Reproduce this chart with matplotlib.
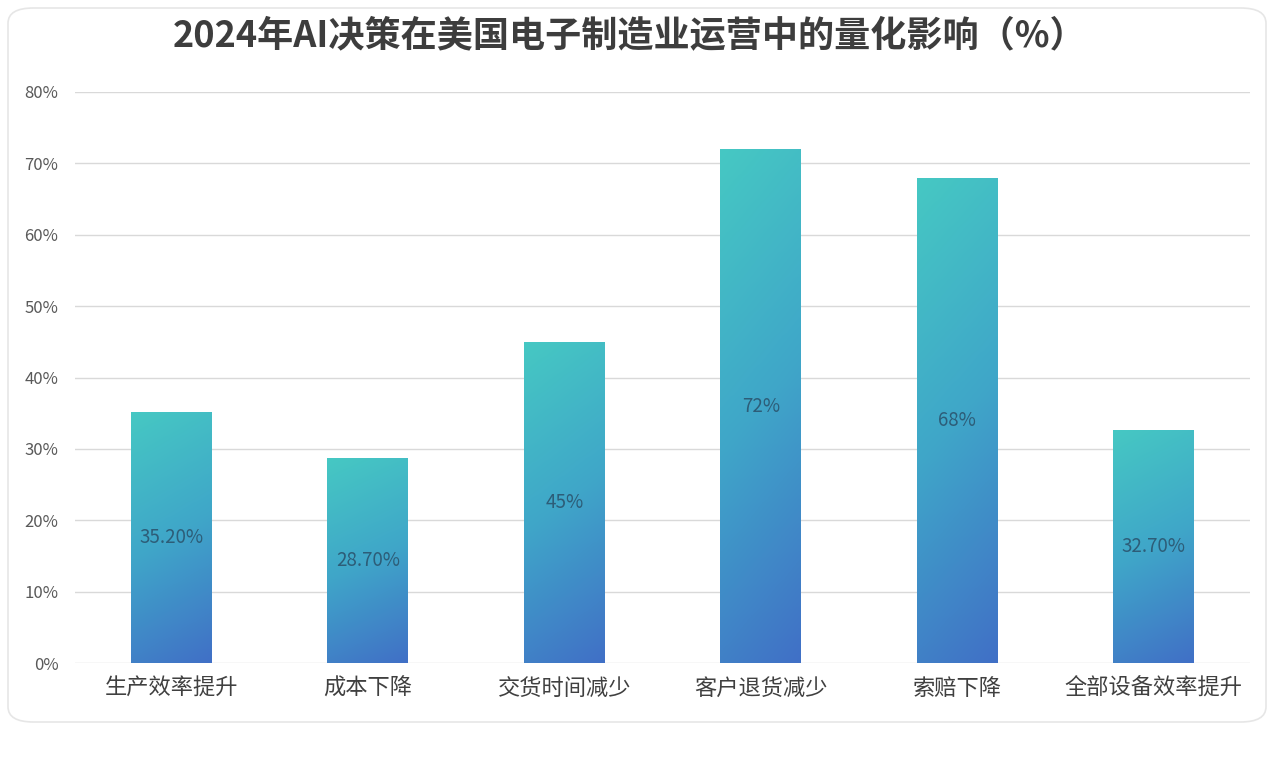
import numpy as np
import matplotlib.pyplot as plt
from matplotlib.patches import FancyBboxPatch
from matplotlib.colors import LinearSegmentedColormap

plt.rcParams['font.family'] = ['Noto Sans CJK SC', 'DejaVu Sans']

TITLE = "2024年AI决策在美国电子制造业运营中的量化影响（%）"
categories = ["生产效率提升", "成本下降", "交货时间减少", "客户退货减少", "索赔下降", "全部设备效率提升"]
values = [35.2, 28.7, 45, 72, 68, 32.7]
value_labels = ["35.20%", "28.70%", "45%", "72%", "68%", "32.70%"]
y_ticks = [0, 10, 20, 30, 40, 50, 60, 70, 80]

cmap = LinearSegmentedColormap.from_list("bar_grad", ["#4170c6", "#3fa6c9", "#46c8c3"])

fig = plt.figure(figsize=(12.79, 7.60), dpi=100)
fig.patch.set_facecolor("white")

# rounded frame around the chart
frame = FancyBboxPatch((8 / 1279, 1 - 722 / 760), 1258 / 1279, 714 / 760,
                       boxstyle="round,pad=0,rounding_size=0.02",
                       transform=fig.transFigure, facecolor="white",
                       edgecolor="#e6e6e6", linewidth=1.2, zorder=-1)
fig.patches.append(frame)

ax = fig.add_axes([75 / 1279, 1 - 663 / 760, 1175 / 1279, 571 / 760])
ax.set_facecolor("none")
ax.set_zorder(1)

x = np.arange(len(categories))
bar_w = 0.41
bars = ax.bar(x, values, width=bar_w, color="none", edgecolor="none", zorder=3)

# vertical + slightly diagonal gradient inside each bar
gy, gx = np.mgrid[0:1:200j, 0:1:20j]
grad = np.clip(0.85 * gy + 0.15 * (1 - gx), 0, 1)
for bar in bars:
    x0 = bar.get_x()
    h = bar.get_height()
    im = ax.imshow(grad, cmap=cmap, origin="lower", aspect="auto",
                   extent=(x0, x0 + bar.get_width(), 0, h), zorder=3,
                   interpolation="bilinear")
    im.set_clip_path(bar)

for xi, v, lab in zip(x, values, value_labels):
    ax.text(xi, v / 2, lab, ha="center", va="center", fontsize=13.5,
            color="#2d5d78", zorder=4)

ax.set_xlim(-0.49, len(categories) - 0.51)
ax.set_ylim(0, 80)
ax.set_yticks(y_ticks)
ax.set_yticklabels([f"{t}%" for t in y_ticks], fontsize=12, color="#595959")
ax.set_xticks(x)
ax.set_xticklabels(categories, fontsize=16, color="#404040")
ax.tick_params(axis="both", length=0)
ax.tick_params(axis="y", pad=12)
ax.tick_params(axis="x", pad=10)
ax.grid(axis="y", color="#d9d9d9", linewidth=1, zorder=0)
ax.set_axisbelow(True)
for s in ax.spines.values():
    s.set_visible(False)

fig.text(630 / 1279, 1 - 36 / 760, TITLE, ha="center", va="center",
         fontsize=26, fontweight="bold", color="#3d3d3d")

fig.savefig("out.png", dpi=100, facecolor="white")
